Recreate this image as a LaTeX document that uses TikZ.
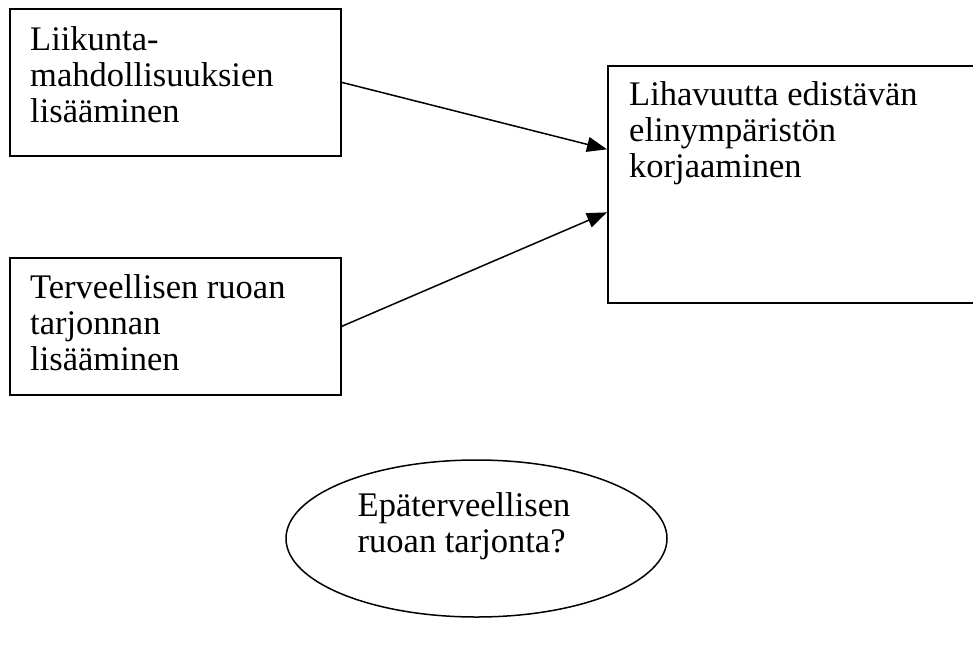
\documentclass[tikz,border=0pt]{standalone}
\usepackage{fontspec}
\setmainfont{Liberation Serif}
\usetikzlibrary{arrows.meta,positioning,shapes.geometric}

\begin{document}
\begin{tikzpicture}[x=1pt,y=-1pt,
  box/.style={draw, line width=1.7pt, inner sep=0pt, anchor=north west},
  txt/.style={align=left, inner sep=0pt, font=\fontsize{34.5}{36}\selectfont},
  arr/.style={line width=1.5pt, -{Triangle[length=20pt,width=15pt]}}]
  \useasboundingbox (0,0) rectangle (973,646);
  % boxes
  \node[box, minimum width=331pt, minimum height=147pt] (liik) at (9,8) {};
  \node[box, minimum width=331pt, minimum height=137pt] (terv) at (9,257) {};
  \node[box, minimum width=380pt, minimum height=237pt] (korj) at (607,65) {};
  \node[draw, ellipse, line width=1.5pt, inner sep=0pt,
        minimum width=381pt, minimum height=157pt] (epat) at (476.5,538.5) {};
  % texts
  \node[txt, below right=18pt and 21pt of liik.north west] (liikT)
       {Liikunta-\\mahdollisuuksien\\lisääminen};
  \node[txt, below right=17pt and 21pt of terv.north west] (tervT)
       {Terveellisen ruoan\\tarjonnan\\lisääminen};
  \node[txt, below right=16pt and 22pt of korj.north west] (korjT)
       {Lihavuutta edistävän\\elinympäristön\\korjaaminen};
  \node[txt, anchor=north west] (epatT) at ([xshift=-119pt,yshift=46pt]epat.center)
       {Epäterveellisen\\ruoan tarjonta?};
  % arrows
  \draw[arr] (liik.east) -- ([yshift=35pt]korj.west);
  \draw[arr] (terv.east) -- ([yshift=-28pt]korj.west);
\end{tikzpicture}
\end{document}
